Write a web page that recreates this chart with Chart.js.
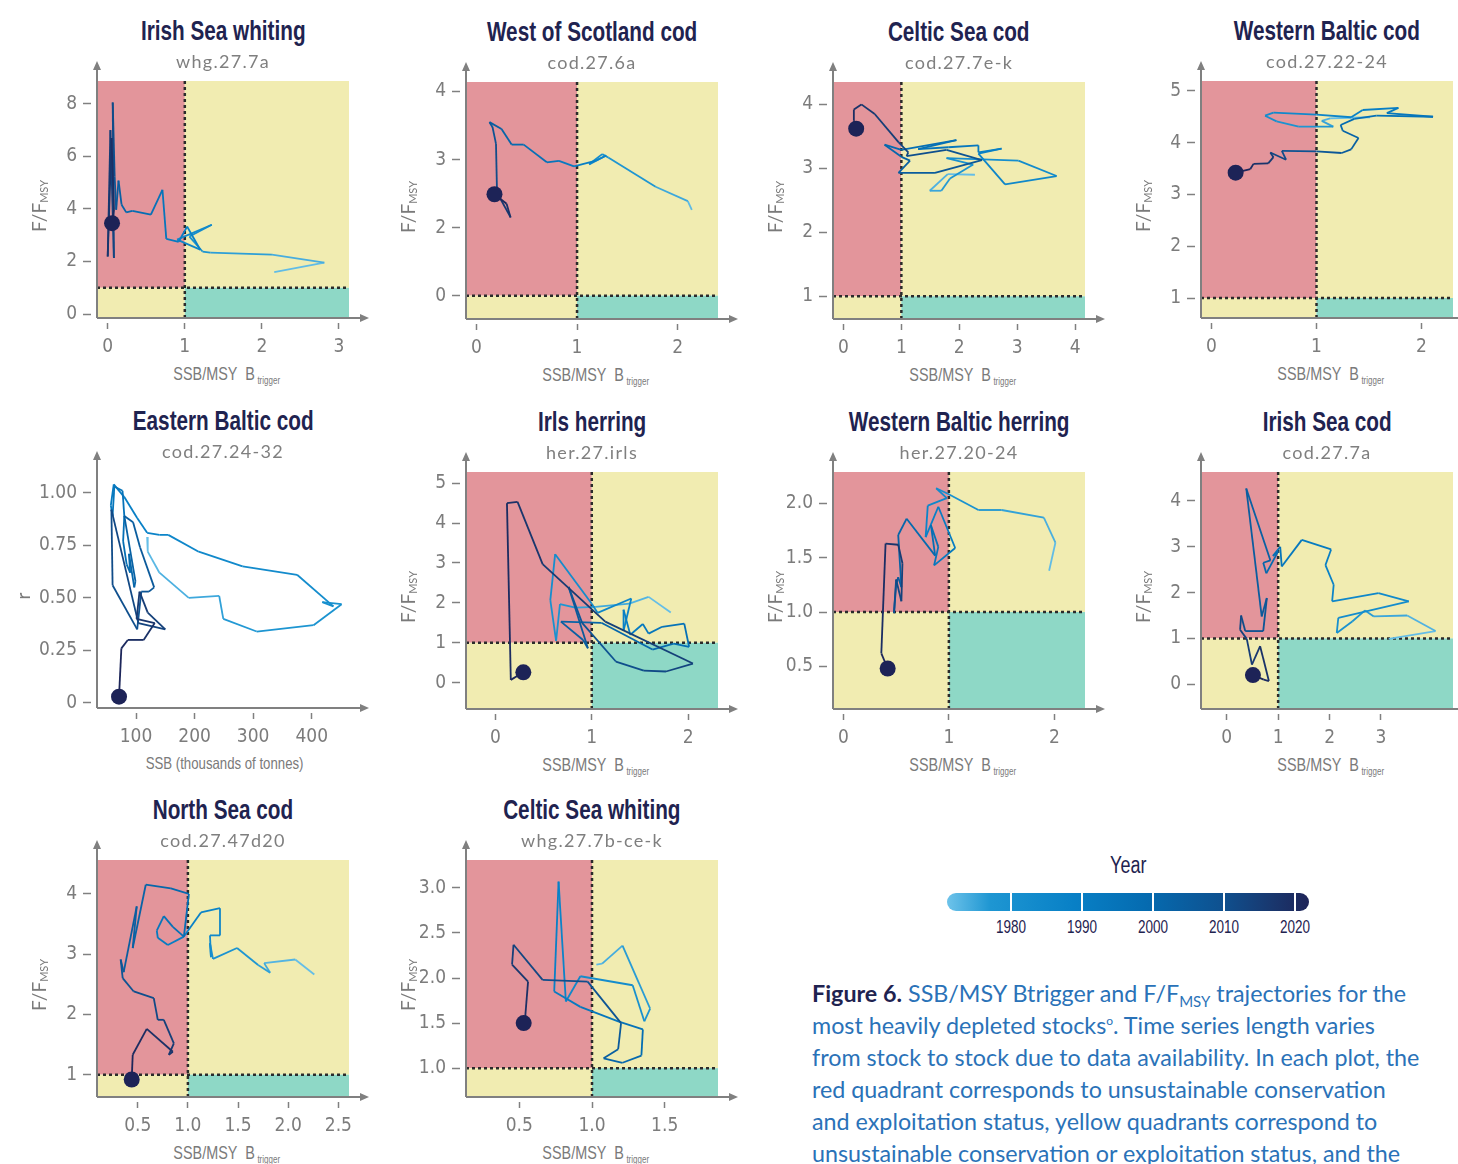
<!DOCTYPE html>
<html>
<head>
<meta charset="utf-8">
<script src="https://cdn.jsdelivr.net/npm/chart.js@4.4.1/dist/chart.umd.min.js"></script>
<style>
  body { margin:0; width:1458px; height:1164px; overflow:hidden; background:#fff; position:relative; font-family:Lato, sans-serif; }
  canvas { position:absolute; }
  .narrow { font-family:"Liberation Sans", Arial, sans-serif; display:inline-block; }
  .title { position:absolute; width:340px; text-align:center; line-height:1; font-size:28px; color:#1f2350; white-space:nowrap; }
  .title span { transform:scaleX(0.74); font-weight:700; }
  .sub { position:absolute; width:320px; text-align:center; line-height:1; font-family:Lato,sans-serif; font-size:18px; letter-spacing:1.3px; color:#7f7f7f; white-space:nowrap; }
  .xt { position:absolute; width:300px; text-align:center; line-height:1; font-size:18px; color:#7a7a7a; white-space:nowrap; }
  .xt span { transform:scaleX(0.8); }
  .xt sub { font-size:10px; vertical-align:-4px; line-height:0; margin-left:3px; }
  .yt { position:absolute; width:240px; height:20px; line-height:20px; text-align:center; font-family:Lato,sans-serif; font-size:19px; color:#7a7a7a; transform:rotate(-90deg); white-space:nowrap; }
  .yt sub { font-size:11px; vertical-align:-2px; line-height:0; }
  #cbTitle { position:absolute; left:1028px; top:853px; width:200px; text-align:center; line-height:1; font-size:23px; color:#1f2350; }
  #cbTitle span { transform:scaleX(0.78); }
  #cbar { position:absolute; left:947px; top:893px; width:362px; height:18px; border-radius:9px; }
  .cbtick { position:absolute; top:0; width:2px; height:20px; background:#fff; }
  .cblab { position:absolute; top:917px; width:60px; text-align:center; line-height:1; font-size:18px; color:#1f2350; }
  .cblab span { transform:scaleX(0.75); }
  #caption { position:absolute; left:812px; top:977px; width:646px; font-family:Lato,sans-serif; font-size:23.3px; line-height:32px; color:#2a72b8; white-space:nowrap; }
  #caption b { color:#1f2350; font-weight:700; }
  #caption sub { font-size:15px; vertical-align:-5px; line-height:0; }
  #caption sup { font-size:12px; vertical-align:9px; line-height:0; }
</style>
</head>
<body>
<script>
// ---- data: SSB/MSY Btrigger (x) and F/FMSY (y), oldest year first ----
const whg7a_ssb = [2.16,2.81,2.13,1.33,1.23,1.06,1.35,0.90,1.20,1.03,0.92,0.76,0.71,0.56,0.32,0.24,0.18,0.14,0.11,0.09,0.065,0.08,0.035,0.00,0.05,0.08,0.056];
const whg7a_f   = [1.60,1.96,2.26,2.34,2.38,2.95,3.40,2.83,2.45,3.33,2.75,2.86,4.73,3.78,3.93,3.87,4.16,5.08,3.97,5.23,8.05,2.13,7.00,2.19,6.70,3.97,3.46];

const cod6a_ssb = [2.14,2.10,1.78,1.31,1.25,1.12,1.29,1.18,0.97,0.82,0.70,0.47,0.35,0.25,0.13,0.16,0.195,0.205,0.24,0.34,0.30,0.18];
const cod6a_f   = [2.26,2.39,2.60,3.03,3.08,2.93,3.06,2.98,2.90,2.98,2.96,3.22,3.22,3.45,3.55,3.48,3.23,2.52,2.42,2.15,2.35,2.49];

const cod7ek_ssb = [2.27,1.80,1.49,1.69,1.84,2.24,1.78,3.02,3.68,2.79,2.33,2.73,2.33,2.33,1.81,1.29,1.95,1.00,0.71,1.00,1.15,0.95,1.58,2.39,1.78,1.09,1.12,0.95,0.54,0.31,0.18,0.18,0.22];
const cod7ek_f   = [2.90,2.91,2.65,2.65,2.84,3.06,3.16,3.12,2.88,2.75,3.23,3.31,3.25,3.36,3.33,3.30,3.44,3.29,3.37,3.18,3.12,2.93,2.93,3.13,3.29,3.19,3.25,3.41,3.85,4.00,3.92,3.75,3.62];

const cod2224_ssb = [1.51,1.13,1.05,1.16,0.83,0.62,0.51,0.59,1.00,1.33,1.44,1.78,1.67,2.11,1.57,1.36,1.23,1.25,1.40,1.33,1.24,1.00,0.67,0.71,0.56,0.59,0.54,0.40,0.37,0.23];
const cod2224_f   = [4.49,4.47,4.42,4.31,4.31,4.41,4.52,4.58,4.54,4.49,4.63,4.67,4.57,4.50,4.52,4.46,4.34,4.23,4.09,3.87,3.80,3.83,3.84,3.67,3.81,3.72,3.60,3.59,3.49,3.42];

// Eastern Baltic cod: SSB in thousands of tonnes, r
const cod2432_ssb = [119,120,140,190,242,249,306,403,451,418,437,375,282,207,155,140,119,102,80,62,57,60,63,77,80,78,84,90,88,97,99,80,95,107,131,122,109,102,60,58,104,150,120,106,101,132,113,86,75,71];
const cod2432_r   = [0.79,0.72,0.62,0.50,0.51,0.40,0.34,0.37,0.47,0.48,0.46,0.61,0.65,0.72,0.80,0.80,0.81,0.88,0.98,1.04,0.94,0.89,1.03,1.01,0.89,0.77,0.66,0.62,0.71,0.55,0.58,0.89,0.86,0.74,0.55,0.53,0.53,0.35,0.56,0.92,0.38,0.35,0.43,0.53,0.40,0.38,0.30,0.30,0.26,0.03];

const herirls_ssb = [1.82,1.59,1.39,1.04,0.83,0.67,0.63,0.57,0.62,1.00,1.06,1.41,1.33,1.33,1.40,1.53,1.59,1.73,1.96,2.01,1.85,1.63,1.10,0.68,0.91,0.96,0.76,0.90,1.25,1.54,1.77,2.05,1.14,0.49,0.23,0.12,0.16,0.29];
const herirls_f   = [1.76,2.15,1.98,1.90,1.88,1.97,1.05,2.07,3.22,1.98,1.75,2.11,1.30,1.83,1.20,1.47,1.23,1.40,1.48,0.90,0.98,0.83,1.50,1.53,1.07,0.86,2.40,1.50,0.53,0.30,0.28,0.48,1.53,2.97,4.53,4.50,0.07,0.26];

const her2024_ssb = [1.95,2.01,1.90,1.50,1.28,0.99,0.88,0.98,0.80,0.78,0.90,1.06,0.86,0.90,0.83,0.87,0.60,0.52,0.55,0.52,0.50,0.48,0.50,0.55,0.56,0.52,0.40,0.36,0.42];
const her2024_f   = [1.38,1.64,1.87,1.94,1.94,2.09,2.14,2.05,1.98,1.69,1.97,1.59,1.43,1.60,1.80,1.52,1.86,1.71,1.23,1.32,1.25,0.99,1.30,1.10,1.45,1.62,1.63,0.62,0.48];

const cod7a_ssb = [3.15,4.06,3.51,2.86,2.69,2.44,2.14,2.17,3.54,2.95,2.05,2.08,1.92,2.03,1.46,1.07,1.04,0.90,1.00,0.77,0.71,0.85,0.38,0.68,0.78,0.71,0.36,0.28,0.26,0.39,0.49,0.65,0.82,0.72,0.51];
const cod7a_f   = [0.99,1.16,1.50,1.48,1.61,1.37,1.12,1.45,1.81,1.99,1.81,2.17,2.60,2.94,3.15,2.57,3.00,2.80,2.90,2.42,2.65,2.70,4.27,1.48,1.88,1.16,1.16,1.50,1.19,0.99,0.43,0.83,0.07,0.10,0.20];

const cod347_ssb = [2.26,2.07,1.76,1.82,1.70,1.49,1.25,1.22,1.23,1.22,1.32,1.32,1.13,0.96,0.80,0.70,0.69,0.76,0.85,0.96,1.01,0.83,0.58,0.45,0.49,0.36,0.33,0.35,0.46,0.66,0.70,0.76,0.86,0.81,0.85,0.59,0.45,0.44];
const cod347_f   = [2.66,2.91,2.85,2.69,2.82,3.10,2.92,3.18,2.95,3.31,3.31,3.76,3.69,3.29,3.15,3.27,3.39,3.63,3.45,3.29,4.00,4.09,4.15,3.10,3.79,2.70,2.91,2.60,2.38,2.27,1.91,1.91,1.52,1.33,1.38,1.76,1.33,0.92];

const whg7bk_ssb = [1.03,1.07,1.21,1.40,1.36,1.28,0.92,0.82,0.77,0.74,0.92,1.18,1.35,1.34,1.21,1.08,1.18,1.20,0.97,0.66,0.46,0.45,0.56,0.54,0.53];
const whg7bk_f   = [2.15,2.16,2.36,1.66,1.52,1.92,2.02,1.74,3.07,1.85,1.68,1.52,1.43,1.14,1.06,1.11,1.21,1.50,1.96,1.98,2.37,2.15,1.96,1.56,1.50];

// ---- axis ticks ----
const whg7a_xt = [0,1,2,3],            whg7a_yt = [0,2,4,6,8];
const cod6a_xt = [0,1,2],              cod6a_yt = [1,2,3,4];
const cod6a_yl = ['0','2','3','4'];     // as printed in the source figure
const cod7ek_xt = [0,1,2,3,4],          cod7ek_yt = [1,2,3,4];
const cod2224_xt = [0,1,2],             cod2224_yt = [1,2,3,4,5];
const cod2432_xt = [100,200,300,400],   cod2432_yt = [0,0.25,0.5,0.75,1];
const cod2432_yl = ['0','0.25','0.50','0.75','1.00'];
const herirls_xt = [0,1,2],             herirls_yt = [0,1,2,3,4,5];
const her2024_xt = [0,1,2],             her2024_yt = [0.5,1,1.5,2];
const her2024_yl = ['0.5','1.0','1.5','2.0'];
const cod7a_xt = [0,1,2,3],             cod7a_yt = [0,1,2,3,4];
const cod347_xt = [0.5,1,1.5,2,2.5],    cod347_yt = [1,2,3,4];
const cod347_xl = ['0.5','1.0','1.5','2.0','2.5'];
const whg7bk_xt = [0.5,1,1.5],          whg7bk_yt = [1,1.5,2,2.5,3];
const whg7bk_xl = ['0.5','1.0','1.5'];
const whg7bk_yl = ['1.0','1.5','2.0','2.5','3.0'];

const refPoint = 1;                      // Btrigger and FMSY reference lines
const colorbarYears = [1980,1990,2000,2010,2020];
const yearSpan = [1971,2022];

// ---- styling ----
const W = 252, H = 237, PADL = 70, PADT = 25, PADR = 25, PADB = 40;
const NAVY = '#1d2357';
const QUAD = { red:'#e3959b', yellow:'#f1ecb1', green:'#8ed8c6' };
const palette = [[0,[110,195,234]],[0.12,[30,150,210]],[0.35,[8,128,198]],[0.55,[5,107,176]],[0.75,[14,82,145]],[0.9,[25,55,110]],[1,[30,36,88]]];
function shade(t) {
  t = Math.max(0, Math.min(1, t));
  for (let i = 1; i < palette.length; i++) {
    const [t1, c1] = palette[i], [t0, c0] = palette[i-1];
    if (t <= t1) {
      const k = (t - t0) / (t1 - t0);
      return 'rgb(' + c0.map((v, j) => Math.round(v + (c1[j] - v) * k)).join(',') + ')';
    }
  }
  return 'rgb(30,36,88)';
}

// pick a condensed face for the canvas tick labels if one is installed
const probe = document.createElement('canvas').getContext('2d');
function probeW(f) { probe.font = f; return probe.measureText('0.25 1.00 2.5 100').width; }
let tickFamily = '"Liberation Sans", Arial, sans-serif', tickSize = 20;
for (const fam of ['Liberation Sans Narrow', 'DejaVu Sans Condensed']) {
  if (Math.abs(probeW('21px "' + fam + '", monospace') - probeW('21px monospace')) > 1) {
    tickFamily = '"' + fam + '"'; tickSize = fam === 'DejaVu Sans Condensed' ? 19 : 21; break;
  }
}
const TICKFONT = { family: tickFamily, size: tickSize };

const SSBLAB = '<span class="narrow">SSB/MSY&nbsp; B<sub>trigger</sub></span>';
const FLAB = 'F/F<sub>MSY</sub>';

const panels = [
  { title:'Irish Sea whiting', code:'whg.27.7a', L:97, T:81, x:whg7a_ssb, y:whg7a_f, xr:[-0.139,3.13], yr:[-0.15,8.87], xt:whg7a_xt, yt:whg7a_yt },
  { title:'West of Scotland cod', code:'cod.27.6a', L:466, T:82, x:cod6a_ssb, y:cod6a_f, xr:[-0.103,2.40], yr:[0.657,4.14], xt:cod6a_xt, yt:cod6a_yt, yl:cod6a_yl },
  { title:'Celtic Sea cod', code:'cod.27.7e-k', L:833, T:82, x:cod7ek_ssb, y:cod7ek_f, xr:[-0.18,4.17], yr:[0.645,4.35], xt:cod7ek_xt, yt:cod7ek_yt },
  { title:'Western Baltic cod', code:'cod.27.22-24', L:1201, T:81, x:cod2224_ssb, y:cod2224_f, xr:[-0.10,2.30], yr:[0.614,5.19], xt:cod2224_xt, yt:cod2224_yt },
  { title:'Eastern Baltic cod', code:'cod.27.24-32', L:97, T:471, x:cod2432_ssb, y:cod2432_r, xr:[33.4,463.6], yr:[-0.024,1.104], xt:cod2432_xt, yt:cod2432_yt, yl:cod2432_yl, noQuad:true, xTitle:'SSB (thousands of tonnes)', yTitle:'r' },
  { title:'Irls herring', code:'her.27.irls', L:466, T:472, x:herirls_ssb, y:herirls_f, xr:[-0.305,2.31], yr:[-0.66,5.28], xt:herirls_xt, yt:herirls_yt },
  { title:'Western Baltic herring', code:'her.27.20-24', L:833, T:472, x:her2024_ssb, y:her2024_f, xr:[-0.098,2.29], yr:[0.107,2.29], xt:her2024_xt, yt:her2024_yt, yl:her2024_yl },
  { title:'Irish Sea cod', code:'cod.27.7a', L:1201, T:472, x:cod7a_ssb, y:cod7a_f, xr:[-0.50,4.40], yr:[-0.54,4.63], xt:cod7a_xt, yt:cod7a_yt },
  { title:'North Sea cod', code:'cod.27.47d20', L:97, T:860, x:cod347_ssb, y:cod347_f, xr:[0.094,2.606], yr:[0.63,4.56], xt:cod347_xt, yt:cod347_yt, xl:cod347_xl },
  { title:'Celtic Sea whiting', code:'whg.27.7b-ce-k', L:466, T:860, x:whg7bk_ssb, y:whg7bk_f, xr:[0.133,1.867], yr:[0.68,3.31], xt:whg7bk_xt, yt:whg7bk_yt, xl:whg7bk_xl, yl:whg7bk_yl }
];

// quadrant backgrounds, reference lines and arrowed axes
const frame = {
  id: 'frame',
  beforeDatasetsDraw(chart, args, opts) {
    const { ctx, chartArea: a, scales: { x, y } } = chart;
    ctx.save();
    if (!opts.noQuad) {
      const px = x.getPixelForValue(refPoint), py = y.getPixelForValue(refPoint);
      ctx.fillStyle = QUAD.red;    ctx.fillRect(a.left, a.top, px - a.left, py - a.top);
      ctx.fillStyle = QUAD.yellow; ctx.fillRect(px, a.top, a.right - px, py - a.top);
      ctx.fillRect(a.left, py, px - a.left, a.bottom - py);
      ctx.fillStyle = QUAD.green;  ctx.fillRect(px, py, a.right - px, a.bottom - py);
      ctx.strokeStyle = '#2b2b2b'; ctx.lineWidth = 2.5; ctx.setLineDash([3, 3]);
      ctx.beginPath();
      ctx.moveTo(px, a.top); ctx.lineTo(px, a.bottom);
      ctx.moveTo(a.left, py); ctx.lineTo(a.right, py);
      ctx.stroke();
      ctx.setLineDash([]);
    }
    ctx.strokeStyle = '#808080'; ctx.fillStyle = '#808080'; ctx.lineWidth = 2;
    ctx.beginPath();
    ctx.moveTo(a.left, a.bottom); ctx.lineTo(a.right + 14, a.bottom);
    ctx.moveTo(a.left, a.bottom); ctx.lineTo(a.left, a.top - 14);
    ctx.stroke();
    ctx.beginPath();
    ctx.moveTo(a.right + 20, a.bottom); ctx.lineTo(a.right + 11, a.bottom - 4); ctx.lineTo(a.right + 11, a.bottom + 4); ctx.closePath();
    ctx.moveTo(a.left, a.top - 20); ctx.lineTo(a.left - 4, a.top - 11); ctx.lineTo(a.left + 4, a.top - 11); ctx.closePath();
    ctx.fill();
    ctx.restore();
  }
};

function addDiv(cls, html, css) {
  const d = document.createElement('div');
  d.className = cls; d.innerHTML = html;
  Object.assign(d.style, css);
  document.body.appendChild(d);
  return d;
}

panels.forEach(p => {
  const cv = document.createElement('canvas');
  cv.width = PADL + W + PADR; cv.height = PADT + H + PADB;
  cv.style.left = (p.L - PADL) + 'px'; cv.style.top = (p.T - PADT) + 'px';
  document.body.appendChild(cv);

  const n = p.x.length;
  const pts = p.x.map((v, i) => ({ x: v, y: p.y[i] }));
  const xl = p.xl || p.xt.map(String), yl = p.yl || p.yt.map(String);

  new Chart(cv, {
    type: 'scatter',
    data: { datasets: [{
      data: pts,
      showLine: true,
      borderWidth: 1.8,
      borderColor: shade(0.4),
      segment: { borderColor: c => shade((c.p0DataIndex + 0.5) / (n - 1)) },
      pointRadius: c => c.dataIndex === n - 1 ? 8 : 0,
      pointHoverRadius: c => c.dataIndex === n - 1 ? 8 : 0,
      pointBackgroundColor: NAVY,
      pointBorderWidth: 0
    }] },
    options: {
      responsive: false, animation: false, events: [],
      layout: { padding: { top: PADT, right: PADR, left: 0, bottom: 0 } },
      plugins: { legend: { display: false }, tooltip: { enabled: false }, frame: { noQuad: !!p.noQuad } },
      scales: {
        x: {
          type: 'linear', min: p.xr[0], max: p.xr[1],
          border: { display: false },
          grid: { drawOnChartArea: false, tickLength: 11, tickColor: '#808080', tickWidth: 1.5, tickBorderDash: [6, 5], tickBorderDashOffset: 6 },
          ticks: { autoSkip: false, maxRotation: 0, padding: 7, color: '#7c7c7c', font: TICKFONT, callback: (v, i) => xl[i] },
          afterBuildTicks: s => { s.ticks = p.xt.map(v => ({ value: v })); },
          afterFit: s => { s.height = PADB; }
        },
        y: {
          type: 'linear', min: p.yr[0], max: p.yr[1],
          border: { display: false },
          grid: { drawOnChartArea: false, tickLength: 14, tickColor: '#808080', tickWidth: 1.5, tickBorderDash: [8, 6], tickBorderDashOffset: 0 },
          ticks: { autoSkip: false, padding: 6, color: '#7c7c7c', font: TICKFONT, callback: (v, i) => yl[i] },
          afterBuildTicks: s => { s.ticks = p.yt.map(v => ({ value: v })); },
          afterFit: s => { s.width = PADL; }
        }
      }
    },
    plugins: [frame]
  });

  const cx = p.L + W / 2, cy = p.T + H / 2;
  addDiv('title', '<span class="narrow">' + p.title + '</span>', { left: (cx - 170) + 'px', top: (p.T - 66) + 'px' });
  addDiv('sub', p.code, { left: (cx - 160) + 'px', top: (p.T - 29) + 'px' });
  if (p.xTitle) {
    addDiv('xt', '<span class="narrow">' + p.xTitle + '</span>', { left: (cx - 148) + 'px', top: (p.T + H + 47) + 'px', fontSize: '16.5px' });
  } else {
    addDiv('xt', SSBLAB, { left: (cx - 146) + 'px', top: (p.T + H + 46) + 'px' });
  }
  if (p.yTitle) {
    addDiv('yt', p.yTitle, { left: (p.L - 74 - 120) + 'px', top: (cy + 6 - 10) + 'px' });
  } else {
    addDiv('yt', FLAB, { left: (p.L - 58 - 120) + 'px', top: (cy + 6 - 10) + 'px' });
  }
});

// ---- year colour bar ----
addDiv('', '<span class="narrow">Year</span>', {}).id = 'cbTitle';
const bar = document.createElement('div'); bar.id = 'cbar';
bar.style.background = 'linear-gradient(to right,' + palette.map(([t, c]) => 'rgb(' + c.join(',') + ') ' + (t * 100) + '%').join(',') + ')';
document.body.appendChild(bar);
const barW = 362, barL = 947;
colorbarYears.forEach(yr => {
  const pos = (yr - yearSpan[0]) / (yearSpan[1] - yearSpan[0]) * barW;
  const t = document.createElement('div'); t.className = 'cbtick'; t.style.left = (pos - 1) + 'px';
  bar.appendChild(t);
  addDiv('cblab', '<span class="narrow">' + yr + '</span>', { left: (barL + pos - 30) + 'px' });
});

// ---- caption ----
addDiv('', '<b>Figure 6.</b> SSB/MSY Btrigger and F/F<sub>MSY</sub> trajectories for the<br>most heavily depleted stocks<sup>o</sup>. Time series length varies<br>from stock to stock due to data availability. In each plot, the<br>red quadrant corresponds to unsustainable conservation<br>and exploitation status, yellow quadrants correspond to<br>unsustainable conservation or exploitation status, and the', {}).id = 'caption';
</script>
</body>
</html>
